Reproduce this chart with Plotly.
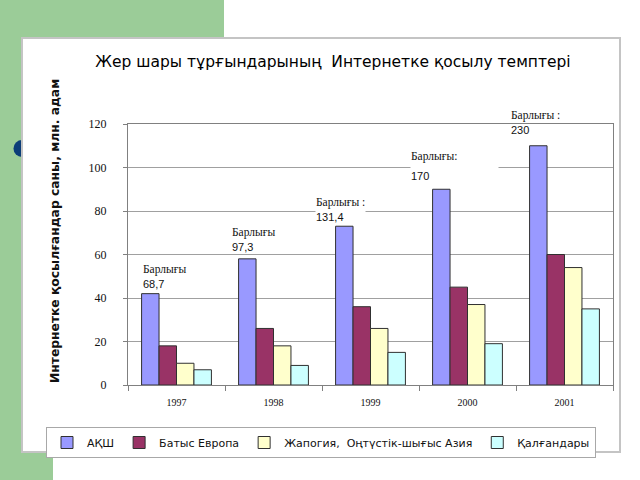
import plotly.graph_objects as go

# ---- data ----
years = ["1997", "1998", "1999", "2000", "2001"]
series_names = ["АҚШ", "Батыс Европа", "Жапогия,  Оңтүстік-шығыс Азия", "Қалғандары"]
usa = [42, 58, 73, 90, 110]
west_europe = [18, 26, 36, 45, 60]
japan_asia = [10, 18, 26, 37, 54]
others = [7, 9, 15, 19, 35]
total_prefix = ["Барлығы", "Барлығы", "Барлығы :", "Барлығы:", "Барлығы :"]
total_values = ["68,7", "97,3", "131,4", "170", "230"]

title_text = "Жер шары тұрғындарының  Интернетке қосылу темптері"
ytitle_text = "Интернетке қосылғандар саны, млн. адам"

# ---- styling ----
colors = ["#9999FF", "#993366", "#FFFFCC", "#CCFFFF"]
W, H = 640, 480
L, R, T, B = 128, 613, 124, 385
YMAX = 120

def px_x(px):
    return (px - L) / (R - L)

def px_y(py):
    return (B - py) / (B - T)

fig = go.Figure()
for name, vals, col in zip(series_names, [usa, west_europe, japan_asia, others], colors):
    fig.add_trace(go.Bar(
        x=years, y=vals, name=name,
        marker=dict(color=col, line=dict(color="#303030", width=1)),
    ))

# label placement (layout): offset from category centre (in category units) and top value
label_dx = [-0.356, -0.438, -0.572, -0.593, -0.562]
label_top = [56.6, 73.4, 87.3, 108.5, 127.5]
label_bg = [None, None, "white", "white", None]

annotations = []
for i, (pre, val) in enumerate(zip(total_prefix, total_values)):
    if i == 3:
        txt = ("<span style='font-size:11.5px'>" + pre + "</span><br>"
               "<span style='font-family:Liberation Sans;font-size:11px'>" + val + "</span>")
        fsize = 15
        extra = dict(width=87)
    else:
        txt = (pre + "<br><span style='font-family:Liberation Sans;font-size:11px'>"
               + val + "</span>")
        fsize = 11.5
        extra = {}
    ann = dict(
        x=i + label_dx[i], y=label_top[i] / YMAX, xref="x", yref="paper",
        text=txt, showarrow=False, xanchor="left", yanchor="top", align="left",
        font=dict(family="Liberation Serif", size=fsize, color="#111"),
        borderpad=0,
    )
    if label_bg[i]:
        ann["bgcolor"] = label_bg[i]
    ann.update(extra)
    annotations.append(ann)

annotations.append(dict(
    x=px_x(55), y=px_y(231), xref="paper", yref="paper",
    text="<b>" + ytitle_text + "</b>", textangle=-90, showarrow=False,
    xanchor="center", yanchor="middle",
    font=dict(family="DejaVu Sans", size=12.3, color="#111"),
))

def rect(x0, y0, x1, y1, **kw):
    return dict(type="rect", xref="paper", yref="paper", layer="below",
                x0=px_x(x0), x1=px_x(x1), y0=px_y(y1), y1=px_y(y0), **kw)

green = "#9BCC98"
shapes = [
    rect(0, 0, 224, 38, fillcolor=green, line=dict(width=0)),
    rect(0, 0, 22, 480, fillcolor=green, line=dict(width=0)),
    rect(0, 452, 53, 480, fillcolor=green, line=dict(width=0)),
    dict(type="circle", xref="paper", yref="paper", layer="below",
         x0=px_x(13.5), x1=px_x(30.5), y0=px_y(157), y1=px_y(140),
         fillcolor="#0B3D78", line=dict(width=0)),
    rect(22, 38, 620, 452, fillcolor="white", line=dict(color="#C4C4C4", width=2)),
]

fig.update_layout(
    width=W, height=H,
    margin=dict(l=L, r=W - R, t=T, b=H - B, pad=0),
    paper_bgcolor="white", plot_bgcolor="rgba(0,0,0,0)",
    barmode="group", bargap=0.28, bargroupgap=0,
    title=dict(text=title_text, x=333 / W, y=1 - 62 / H, xref="container", yref="container",
               xanchor="center", yanchor="middle",
               font=dict(family="DejaVu Sans", size=15.5, color="#000")),
    xaxis=dict(type="category", tickson="boundaries", ticks="outside", ticklen=5,
               tickcolor="#808080", showline=True, linecolor="#808080", linewidth=1,
               mirror=True, showgrid=False, ticklabelstandoff=8,
               tickfont=dict(family="Liberation Serif", size=10, color="#111")),
    yaxis=dict(range=[0, YMAX], dtick=20, showgrid=True, gridcolor="#A0A0A0", gridwidth=1,
               ticks="outside", ticklen=4, tickcolor="#808080", showline=True,
               linecolor="#808080", linewidth=1, mirror=True, zeroline=False,
               ticklabelstandoff=14,
               tickfont=dict(family="Liberation Serif", size=12, color="#111")),
    legend=dict(orientation="h", xref="paper", yref="paper",
                x=px_x(46), y=px_y(427), xanchor="left", yanchor="top",
                bgcolor="white", bordercolor="#A8A8A8", borderwidth=1,
                font=dict(family="DejaVu Sans", size=11, color="#111"),
                traceorder="normal"),
    annotations=annotations,
    shapes=shapes,
    showlegend=True,
)

fig.write_html("out.html", config={"displayModeBar": False},
               post_script="document.body.style.margin='0';")
